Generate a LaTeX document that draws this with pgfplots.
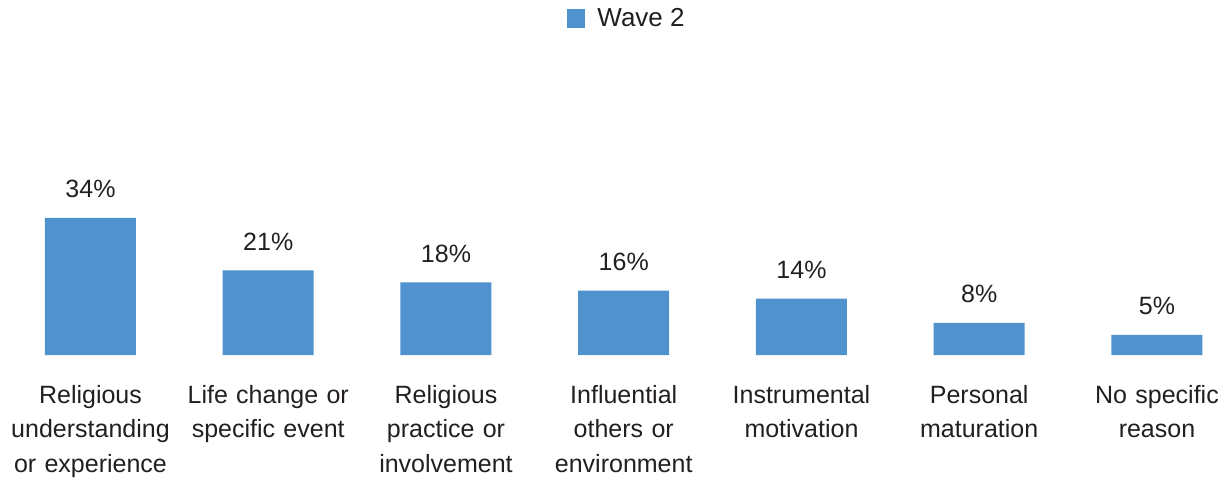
\documentclass[border=0pt]{standalone}
\usepackage{pgfplots}
\pgfplotsset{compat=1.18}
\usepackage{fontspec}
\setmainfont{Liberation Sans}
\definecolor{barblue}{RGB}{80,146,206}
\definecolor{txt}{RGB}{35,31,32}
\begin{document}
\begin{tikzpicture}
\begin{axis}[
  scale only axis,
  width=1227pt, height=355pt,
  xmin=-0.509, xmax=6.394,
  ymin=0, ymax=88.1,
  hide y axis,
  axis x line*=bottom,
  x axis line style={draw=none},
  xtick style={draw=none},
  major tick length=0pt,
  clip=false,
  /pgf/number format/assume math mode=true,
  ybar, bar width=91pt,
  xtick={0,1,2,3,4,5,6},
  xticklabels={{Religious\\understanding\\or experience},{Life change or\\specific event},{Religious\\practice or\\involvement},{Influential\\others or\\environment},{Instrumental\\motivation},{Personal\\maturation},{No specific\\reason}},
  xticklabel style={anchor=north, inner sep=0pt, yshift=-30pt, text width=175pt, align=center, font=\fontsize{25}{34.5}\selectfont, text=txt},
  ytick=\empty,
  nodes near coords={\pgfmathprintnumber{\pgfplotspointmeta}\%},
  every node near coord/.append style={font=\fontsize{25}{30}\selectfont, text=txt, anchor=south, inner sep=0pt, yshift=20pt},
  legend style={at={(0.5102,0.976)}, anchor=north, draw=none, fill=none, inner sep=0pt, font=\fontsize{26}{30}\selectfont, text=txt,
    nodes={inner sep=0pt}, /tikz/every odd column/.append style={column sep=12pt}},
  legend image code/.code={\fill[barblue] (0pt,-9.5pt) rectangle (18pt,9.5pt);},
]
\addplot[fill=barblue, draw=none] coordinates {(0,34) (1,21) (2,18) (3,16) (4,14) (5,8) (6,5)};
\addlegendentry{Wave 2}
\end{axis}
\pgfresetboundingbox
\path[use as bounding box] (0,-124pt) rectangle (1227pt,355pt);
\end{tikzpicture}
\end{document}
